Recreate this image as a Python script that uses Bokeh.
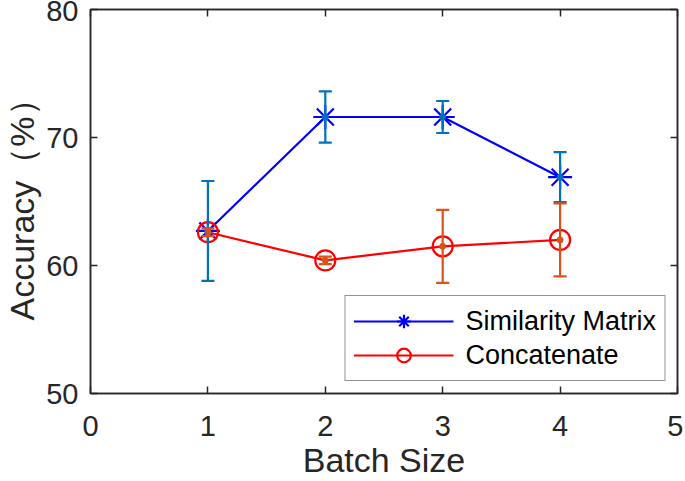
from bokeh.plotting import figure
from bokeh.models import (ColumnDataSource, Whisker, TeeHead, LinearAxis, Range1d,
                          FixedTicker, Legend, LegendItem)
from bokeh.embed import file_html
from bokeh.resources import INLINE

batch = [1, 2, 3, 4]
sim = [62.7, 71.6, 71.6, 66.9]
sim_err = [3.9, 2.0, 1.25, 1.95]
concat = [62.6, 60.4, 61.5, 62.0]
concat_err = [0.3, 0.3, 2.85, 2.85]
x_ticks = [0, 1, 2, 3, 4, 5]
y_ticks = [50, 60, 70, 80]
x_title = "Batch Size"
y_title = "Accuracy（%）"

FONT = "Liberation Sans"
INK = "#262626"

p = figure(width=683, height=481, output_backend="svg", toolbar_location=None,
           x_range=Range1d(0, 5), y_range=Range1d(50, 80),
           min_border_left=90, min_border_top=9, min_border_right=6, min_border_bottom=88)
p.outline_line_color = INK
p.outline_line_width = 1.5
p.grid.visible = False

def style_axis(ax, labels=True):
    ax.major_tick_in = 7
    ax.major_tick_out = 0
    ax.minor_tick_line_color = None
    ax.axis_line_color = INK
    ax.axis_line_width = 1.5
    ax.major_tick_line_color = INK
    ax.major_tick_line_width = 1.5
    ax.major_label_text_font = FONT
    ax.major_label_text_font_size = "29px"
    ax.major_label_text_color = INK
    ax.axis_label_text_font = FONT
    ax.axis_label_text_font_size = "34px"
    ax.axis_label_text_font_style = "normal"
    ax.axis_label_text_color = INK
    ax.axis_label_text_line_height = 0.8
    if not labels:
        ax.major_label_overrides = {t: "" for t in ax.ticker.ticks}
        ax.major_label_standoff = 0

p.xaxis.ticker = FixedTicker(ticks=x_ticks)
p.yaxis.ticker = FixedTicker(ticks=y_ticks)
p.xaxis.axis_label = x_title
p.yaxis.axis_label = y_title
style_axis(p.xaxis[0])
style_axis(p.yaxis[0])
p.xaxis.major_label_standoff = 22
p.xaxis.axis_label_standoff = 2
p.yaxis.major_label_standoff = 12
p.yaxis.axis_label_standoff = 2

top = LinearAxis(ticker=FixedTicker(ticks=x_ticks))
right = LinearAxis(ticker=FixedTicker(ticks=y_ticks))
style_axis(top, labels=False)
style_axis(right, labels=False)
p.add_layout(top, "above")
p.add_layout(right, "right")

src_s = ColumnDataSource(dict(x=batch, y=sim,
                              lo=[a - b for a, b in zip(sim, sim_err)],
                              hi=[a + b for a, b in zip(sim, sim_err)]))
src_c = ColumnDataSource(dict(x=batch, y=concat,
                              lo=[a - b for a, b in zip(concat, concat_err)],
                              hi=[a + b for a, b in zip(concat, concat_err)]))

BLUE_E = "#0072BD"
RED_E = "#D95319"

ls = p.line("x", "y", source=src_s, line_color="#0000FF", line_width=2.2)
ms = p.scatter("x", "y", source=src_s, marker="asterisk", size=24,
               line_color="#0000FF", line_width=2.2)
lc = p.line("x", "y", source=src_c, line_color="#FF0000", line_width=2.2)
mc = p.scatter("x", "y", source=src_c, marker="circle", size=20, fill_color=None,
               line_color="#FF0000", line_width=2.2)

for src, col in ((src_s, BLUE_E), (src_c, RED_E)):
    w = Whisker(source=src, base="x", upper="hi", lower="lo", dimension="height",
                line_color=col, line_width=2.2, level="overlay",
                upper_head=TeeHead(size=13, line_color=col, line_width=2.2),
                lower_head=TeeHead(size=13, line_color=col, line_width=2.2))
    p.add_layout(w)
    p.scatter("x", "y", source=src, marker="circle", size=6, fill_color=col,
              line_color=col, level="overlay")

legend = Legend(items=[LegendItem(label="Similarity Matrix", renderers=[ls, ms]),
                       LegendItem(label="Concatenate", renderers=[lc, mc])],
                location="bottom_right", margin=12)
legend.glyph_width = 100
legend.glyph_height = 34
legend.label_height = 30
legend.label_text_font = FONT
legend.label_text_font_size = "27px"
legend.label_text_color = "#000000"
legend.border_line_color = INK
legend.border_line_width = 1.5
legend.padding = 8
legend.spacing = -4
legend.label_standoff = 12
p.add_layout(legend)

open("out.html", "w").write(file_html(p, INLINE))
